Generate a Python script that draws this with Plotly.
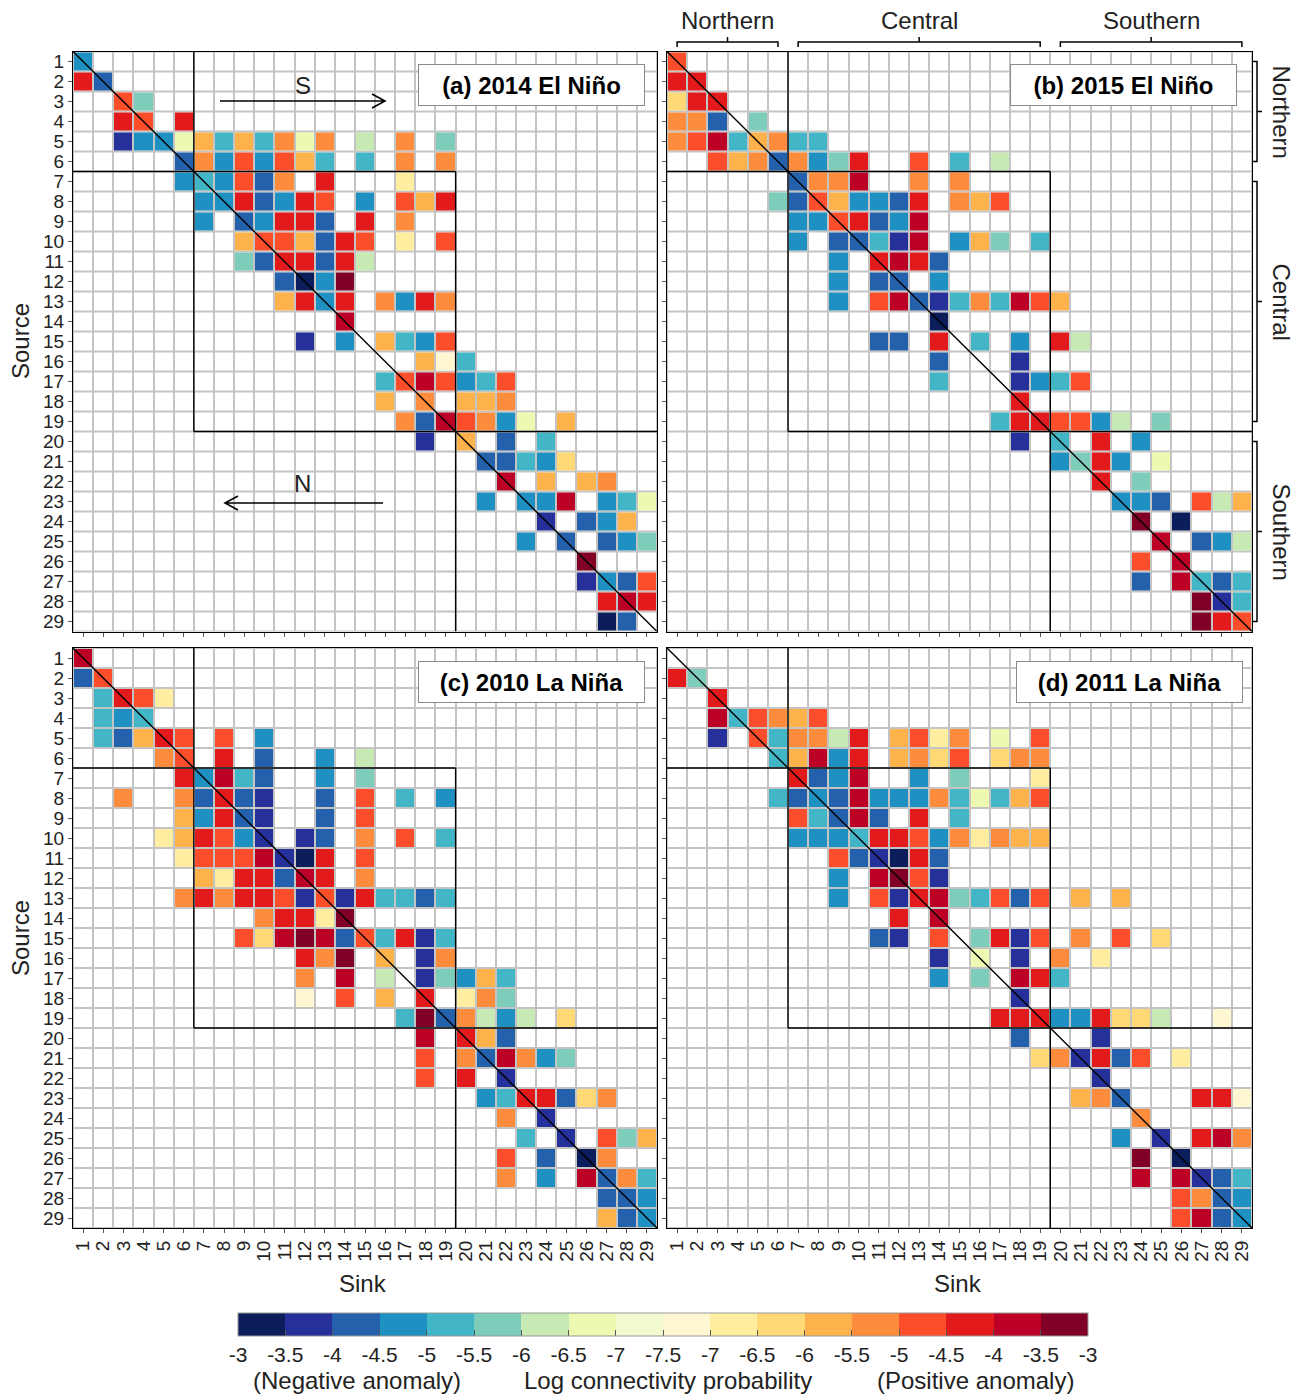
import numpy as np
import plotly.graph_objects as go

# ---------------- data ----------------
SITES = list(range(1, 30))
SITE_LABELS = [str(s) for s in SITES]
REGION_NAMES = ["Northern", "Central", "Southern"]
REGION_START = [1, 7, 20]
REGION_END = [6, 19, 29]

# colour bins of the legend, left (negative anomaly, -3) to right (positive anomaly, -3)
BIN_CODES = list("ABCDEFGHIJKLMNOPQR")
BIN_COLORS = ["#0b1d5a", "#25309a", "#2361ad", "#1e90c2", "#42b6c6", "#7ecdbb",
              "#c7e9b4", "#edf8b1", "#f3facf", "#fff6d2", "#ffeda0", "#fed976",
              "#feb24c", "#fd8d3c", "#fc4e2a", "#e31a1c", "#bd0026", "#800026"]
BIN_TICK_LABELS = ["-3", "-3.5", "-4", "-4.5", "-5", "-5.5", "-6", "-6.5", "-7", "-7.5",
                   "-7", "-6.5", "-6", "-5.5", "-5", "-4.5", "-4", "-3.5", "-3"]

PANEL_TITLES = ["(a) 2014 El Niño", "(b) 2015 El Niño", "(c) 2010 La Niña", "(d) 2011 La Niña"]

# each row (source 1..29): "<sink><bin code>" tokens
PANEL_A_ROWS = [
    "1D",
    "1P 2C",
    "3O 4F",
    "3P 4O 6P",
    "3B 4D 5D 6H 7M 8E 9M 10E 11N 12H 13N 15G 17N 19F",
    "6C 7N 8D 9O 10D 11O 12M 13E 15E 17N 19N",
    "6D 7E 8D 9O 10C 11N 13P 17K",
    "7D 8D 9P 10C 11D 12P 13O 15D 17O 18M 19P",
    "7D 9C 10D 11P 12P 13C 15P 17N",
    "9M 10O 11O 12M 13C 14P 15O 17K 19O",
    "9F 10C 11P 12P 13C 14P 15G",
    "11C 12A 13D 14R",
    "11M 12P 13D 14P 16N 17D 18P 19N",
    "14Q",
    "12B 14D 16M 17E 18D 19O",
    "18M 19J 20E",
    "16E 17O 18Q 19O 20D 21E 22O",
    "16M 18N 20M 21M 22N",
    "17N 18C 19Q 20O 21N 22D 23H 25M",
    "18B 20M 22C 24E",
    "21C 22C 23E 24D 25L",
    "22Q 24M 26M 27N",
    "21D 23D 24D 25Q 27D 28E 29H",
    "24B 26C 27D 28M",
    "23D 25C 27C 28D 29F",
    "26R",
    "26B 27D 28C 29O",
    "27P 28Q 29P",
    "27A 28C",
]

PANEL_B_ROWS = [
    "1O",
    "1P 2P",
    "1L 2P 3P",
    "1N 2N 3C 5F",
    "1N 2O 3Q 4E 5M 6N 7E 8E",
    "3O 4M 5N 6C 7N 8D 9F 10P 13O 15E 17G",
    "7C 8N 9N 10Q 13N 15N",
    "6F 7C 8O 9M 10D 11D 12C 13P 15N 16M 17O",
    "7D 8D 9O 10P 11C 12D 13Q",
    "7D 9C 10C 11E 12B 13Q 15D 16M 17F 19E",
    "9D 11P 12Q 13P 14C",
    "9D 11C 12C 14D",
    "9D 11O 12Q 13C 14B 15E 16N 17E 18Q 19O 20M",
    "14A",
    "11C 12C 14P 16E 18D 20P 21G",
    "14C 18B",
    "14E 18B 19D 20E 21O",
    "18P",
    "17E 18P 19P 20O 21O 22D 23G 25F",
    "18B 20E 22P 24D",
    "20D 21F 22P 23D 25H",
    "22P 24F",
    "23D 24D 25C 27O 28G 29M",
    "24R 26A",
    "25Q 27C 28D 29G",
    "24O 26Q",
    "24C 26Q 27E 28C 29E",
    "27R 28B 29E",
    "27R 28P 29O",
]

PANEL_C_ROWS = [
    "1Q",
    "1C 2O",
    "2E 3P 4O 5K",
    "2E 3D 4E",
    "2E 3C 4M 5P 6O 8O 10D",
    "5N 6O 8P 10C 13D 15G",
    "6P 7D 8Q 9E 10C 13D 15F",
    "3N 6N 7C 8P 9C 10B 13C 15O 17E 19D",
    "6M 7D 8P 9C 10B 13C 15O",
    "5K 6M 7P 8O 9D 10B 12B 13C 15N 17O 19E",
    "6K 7O 8O 9O 10Q 11B 12A 13P 15O",
    "7M 8K 9P 10P 11C 12Q 13P 15N",
    "6N 7P 8N 9P 10P 11O 12B 13O 14B 15P 16E 17E 18C 19E",
    "10N 11P 12P 13K 14R",
    "9O 10L 11Q 12R 13Q 14C 15O 16E 17P 18B 19E",
    "12P 13N 14R 16M 18B 19N",
    "12N 14Q 16G 18B 19F 20D 21M 22E",
    "12J 14O 16M 18P 20K 21N 22F",
    "17E 18R 19C 20N 21G 22D 23G 25L",
    "18Q 20P 21M 22C",
    "18O 20N 21C 22Q 23N 24D 25F",
    "18O 20P 22B",
    "21D 22E 23P 24P 25C 26L 27N",
    "22N 24B",
    "23E 25B 27O 28F 29M",
    "22O 24C 26A 27N",
    "22N 24D 26Q 27C 28N 29E",
    "27C 28C 29D",
    "27M 28C 29D",
]

PANEL_D_ROWS = [
    "",
    "1P 2F",
    "3P",
    "3Q 4E 5O 6N 7M 8O",
    "3B 5O 6E 7N 8N 9G 10P 12M 13O 14K 15N 17H 19O",
    "6E 7M 8Q 9D 10P 12M 13N 14L 15O 17L 18N 19N",
    "7P 8C 9D 10Q 13D 15F 19K",
    "6E 7C 8D 9C 10Q 11D 12D 13D 14N 15E 16H 17E 18M 19O",
    "7O 8E 9C 10Q 11C 13P 15E",
    "7D 8D 9D 10E 11P 12P 13O 14D 15N 16K 17N 18M 19M",
    "9O 10C 11B 12A 13P 14C",
    "9D 11Q 12R 13O 14B",
    "9D 11O 12B 13P 14Q 15F 16E 17O 18C 19O 21M 23M",
    "12P 14Q",
    "11C 12B 14O 16F 17P 18B 19O 21N 23O 25L",
    "14B 16H 18B 20N 22K",
    "14D 16F 18Q 19P 20E",
    "18B",
    "17P 18P 19P 20D 21D 22P 23L 24L 25G 28J",
    "18C 22B",
    "19L 20N 21B 22P 23C 24O 26K",
    "22B",
    "21M 22N 23C 27P 28P 29J",
    "24N",
    "23D 25B 27P 28Q 29N",
    "24R 26A",
    "24Q 26Q 27B 28C 29E",
    "26O 27N 28C 29D",
    "26O 27Q 28C 29D",
]

PANELS = [PANEL_A_ROWS, PANEL_B_ROWS, PANEL_C_ROWS, PANEL_D_ROWS]


def to_matrix(rows):
    n = len(SITES)
    z = [[None] * n for _ in range(n)]
    for r, row in enumerate(rows):
        for tok in row.split():
            c = int(tok[:-1])
            z[r][c - 1] = BIN_CODES.index(tok[-1]) + 0.5
    return z


nb = len(BIN_COLORS)
colorscale = []
for k, col in enumerate(BIN_COLORS):
    colorscale.append([k / nb, col])
    colorscale.append([(k + 1) / nb, col])

# ---------------- layout helpers ----------------
W, H = 1304, 1394
FONT = "Arial, Liberation Sans, sans-serif"


def fx(p):
    return p / W


def fy(p):
    return 1 - p / H


PANEL_BOX = [(73, 657, 51.5, 631.5), (667, 1252, 51.5, 631.5),
             (73, 657, 648, 1228), (667, 1252, 648, 1228)]
TITLE_BOX_RIGHT = [645, 1237, 645, 1243]

fig = go.Figure()
shapes = []
annotations = []


def label(text, x, y, size=24, angle=0, **kw):
    d = dict(text=text, xref="paper", yref="paper", x=fx(x), y=fy(y),
             xanchor="center", yanchor="middle", textangle=angle, showarrow=False,
             font=dict(size=size, color="#222", family=FONT))
    d.update(kw)
    annotations.append(d)


n = len(SITES)
lo, hi = SITES[0] - 0.5, SITES[-1] + 0.5
b1 = REGION_END[0] + 0.5
b2 = REGION_END[1] + 0.5
TICKFONT = dict(size=19, color="#222", family=FONT)

for i, rows in enumerate(PANELS):
    sfx = "" if i == 0 else str(i + 1)
    xa, ya = "x" + sfx, "y" + sfx
    fig.add_trace(go.Heatmap(x=SITES, y=SITES, z=[[0] * n for _ in range(n)],
                             colorscale=[[0, "white"], [1, "white"]], zmin=0, zmax=1,
                             showscale=False, xgap=2, ygap=2, hoverinfo="skip",
                             xaxis=xa, yaxis=ya))
    fig.add_trace(go.Heatmap(x=SITES, y=SITES, z=to_matrix(rows), coloraxis="coloraxis",
                             xgap=2, ygap=2, xaxis=xa, yaxis=ya))
    x0, x1, y0, y1 = PANEL_BOX[i]
    bottom = i >= 2
    left = i % 2 == 0
    fig.layout["xaxis" + sfx] = dict(
        domain=[fx(x0), fx(x1)], range=[lo, hi], anchor=ya,
        tickvals=SITES, ticktext=SITE_LABELS, showticklabels=bottom, tickangle=-90,
        ticks="outside", ticklen=4, tickcolor="#555", tickwidth=1,
        showline=True, linecolor="black", linewidth=1, mirror=True,
        showgrid=False, zeroline=False, tickfont=TICKFONT)
    fig.layout["yaxis" + sfx] = dict(
        domain=[fy(y1), fy(y0)], range=[hi, lo], anchor=xa,
        tickvals=SITES, ticktext=SITE_LABELS, showticklabels=left,
        ticks="outside", ticklen=4, tickcolor="#555", tickwidth=1,
        showline=True, linecolor="black", linewidth=1, mirror=True,
        showgrid=False, zeroline=False, tickfont=TICKFONT)

    line = dict(color="black", width=1.4)
    segs = [(lo, lo, hi, hi),          # diagonal
            (b1, lo, b1, b2), (lo, b1, b2, b1),
            (b2, b1, b2, hi), (b1, b2, hi, b2)]
    for (ax0, ay0, ax1, ay1) in segs:
        shapes.append(dict(type="line", xref=xa, yref=ya, x0=ax0, y0=ay0, x1=ax1, y1=ay1,
                           line=line, layer="above"))

    annotations.append(dict(
        text="<b>" + PANEL_TITLES[i] + "</b>", xref="paper", yref="paper",
        x=fx(TITLE_BOX_RIGHT[i]), y=fy(y0 + 12.5), xanchor="right", yanchor="top",
        showarrow=False, font=dict(size=24, color="black", family=FONT),
        bgcolor="white", bordercolor="#8a8a8a", borderwidth=1, borderpad=6,
        width=213, height=28))

# axis titles
for yc in [341, 938]:
    label("Source", 20, yc, angle=-90)
for xc in [363, 958]:
    label("Sink", xc, 1283)


def path(points_list):
    s = ""
    for pts in points_list:
        s += "M %f,%f " % (fx(pts[0][0]), fy(pts[0][1]))
        for p in pts[1:]:
            s += "L %f,%f " % (fx(p[0]), fy(p[1]))
    return s


# direction arrows in panel a
arrow_line = dict(color="black", width=1.6)
shapes.append(dict(type="path", xref="paper", yref="paper",
                   path=path([[(220, 101), (385, 101)], [(372, 94), (385, 101), (372, 108)]]),
                   line=arrow_line))
shapes.append(dict(type="path", xref="paper", yref="paper",
                   path=path([[(383, 503), (225, 503)], [(238, 496), (225, 503), (238, 510)]]),
                   line=arrow_line))
label("S", 303, 85)
label("N", 302, 484)

# region brackets around panel b
bx0, bx1, by0, by1 = PANEL_BOX[1]
cw = (bx1 - bx0) / n
ch = (by1 - by0) / n
br_line = dict(color="black", width=1.5)
for name, s, e in zip(REGION_NAMES, REGION_START, REGION_END):
    xa_ = bx0 + (s - 0.5) * cw
    xb_ = bx0 + (e - 0.5) * cw
    xm = (xa_ + xb_) / 2
    shapes.append(dict(type="path", xref="paper", yref="paper",
                       path=path([[(xa_, 47), (xa_, 42), (xb_, 42), (xb_, 47)], [(xm, 42), (xm, 37)]]),
                       line=br_line))
    label(name, xm, 20)
    ya_ = by0 + (s - 0.5) * ch
    yb_ = by0 + (e - 0.5) * ch
    ym = (ya_ + yb_) / 2
    shapes.append(dict(type="path", xref="paper", yref="paper",
                       path=path([[(1252, ya_), (1257, ya_), (1257, yb_), (1252, yb_)], [(1257, ym), (1262, ym)]]),
                       line=br_line))
    label(name, 1281, ym, angle=90)

# legend captions
for txt, xc in [("(Negative anomaly)", 357), ("Log connectivity probability", 668),
                ("(Positive anomaly)", 975)]:
    label(txt, xc, 1380, size=24)

fig.update_layout(
    width=W, height=H, autosize=False,
    margin=dict(l=0, r=0, t=0, b=0),
    paper_bgcolor="white", plot_bgcolor="#c4c4c4",
    font=dict(family=FONT, color="#222"),
    coloraxis=dict(
        cmin=0, cmax=nb, colorscale=colorscale,
        colorbar=dict(orientation="h", lenmode="pixels", len=850,
                      thicknessmode="pixels", thickness=23,
                      x=fx(663), xanchor="center", y=fy(1313), yanchor="top",
                      xpad=0, ypad=0,
                      tickvals=list(range(nb + 1)), ticktext=BIN_TICK_LABELS,
                      ticks="inside", ticklen=6, tickcolor="#555",
                      outlinecolor="#999", outlinewidth=1,
                      tickfont=dict(size=21, color="#222", family=FONT))),
    shapes=shapes, annotations=annotations, showlegend=False)

fig.write_html("out.html", config={"displayModeBar": False},
               post_script="document.body.style.margin='0';")
